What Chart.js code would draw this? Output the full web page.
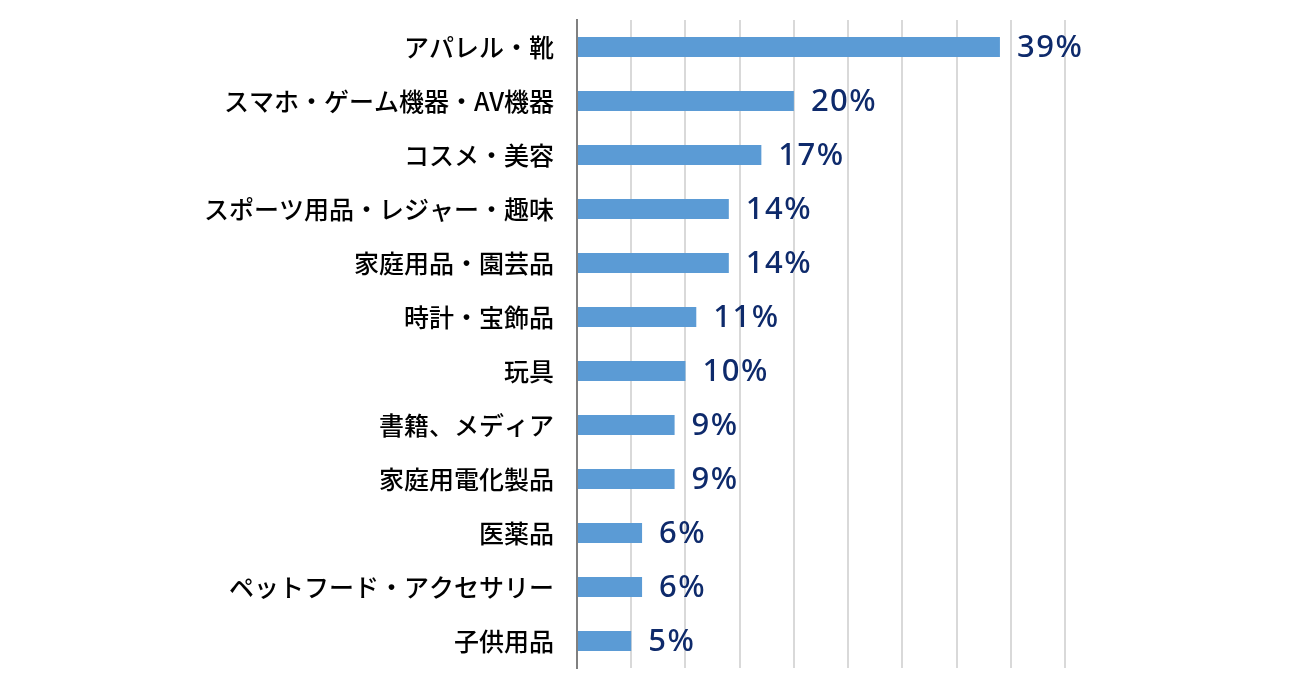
<!DOCTYPE html>
<html>
<head>
<meta charset="utf-8">
<script src="https://cdn.jsdelivr.net/npm/chart.js@4"></script>
<style>
  html, body { margin: 0; padding: 0; background: #fff; }
  #wrap { width: 1300px; height: 680px; }
</style>
</head>
<body>
<div id="wrap"><canvas id="chart" width="1300" height="680"></canvas></div>
<script>
var categories = [
    'アパレル・靴',
    'スマホ・ゲーム機器・AV機器',
    'コスメ・美容',
    'スポーツ用品・レジャー・趣味',
    '家庭用品・園芸品',
    '時計・宝飾品',
    '玩具',
    '書籍、メディア',
    '家庭用電化製品',
    '医薬品',
    'ペットフード・アクセサリー',
    '子供用品'
];
var shares = [39, 20, 17, 14, 14, 11, 10, 9, 9, 6, 6, 5];
var axisMax = 45;
var axisStep = 5;

// value labels at the end of each bar
var valueLabels = {
    id: 'valueLabels',
    afterDatasetsDraw: function(chart) {
        var ctx = chart.ctx;
        var meta = chart.getDatasetMeta(0);
        ctx.save();
        ctx.fillStyle = '#0e2a6b';
        ctx.font = '500 31px "Noto Sans", sans-serif';
        ctx.letterSpacing = '1.5px';
        ctx.textAlign = 'left';
        ctx.textBaseline = 'middle';
        meta.data.forEach(function(bar, i) {
            ctx.fillText(shares[i] + '%', bar.x + 17, bar.y + 1);
        });
        ctx.restore();
    }
};

new Chart(document.getElementById('chart'), {
    type: 'bar',
    data: {
        labels: categories,
        datasets: [{
            data: shares,
            backgroundColor: '#5b9bd5',
            borderWidth: 0,
            categoryPercentage: 1,
            barPercentage: 0.37
        }]
    },
    options: {
        indexAxis: 'y',
        responsive: false,
        animation: false,
        layout: { padding: { top: 20, right: 235, bottom: 12, left: 0 } },
        plugins: { legend: { display: false }, tooltip: { enabled: false } },
        scales: {
            x: {
                min: 0,
                max: axisMax,
                ticks: { display: false, stepSize: axisStep },
                grid: { color: '#d9d9d9', lineWidth: 2, drawTicks: false },
                border: { display: false },
                afterFit: function(s) { s.height = 0; }
            },
            y: {
                ticks: {
                    color: '#000',
                    padding: 23,
                    font: { family: '"Noto Sans CJK JP", sans-serif', size: 25, weight: 500 }
                },
                grid: { display: false, drawTicks: false },
                border: { display: true, color: '#808080', width: 2 },
                afterFit: function(s) {
                    s.width = 577;
                    s.paddingTop = 0;
                    s.paddingBottom = 0;
                }
            }
        }
    },
    plugins: [valueLabels]
});
</script>
</body>
</html>
